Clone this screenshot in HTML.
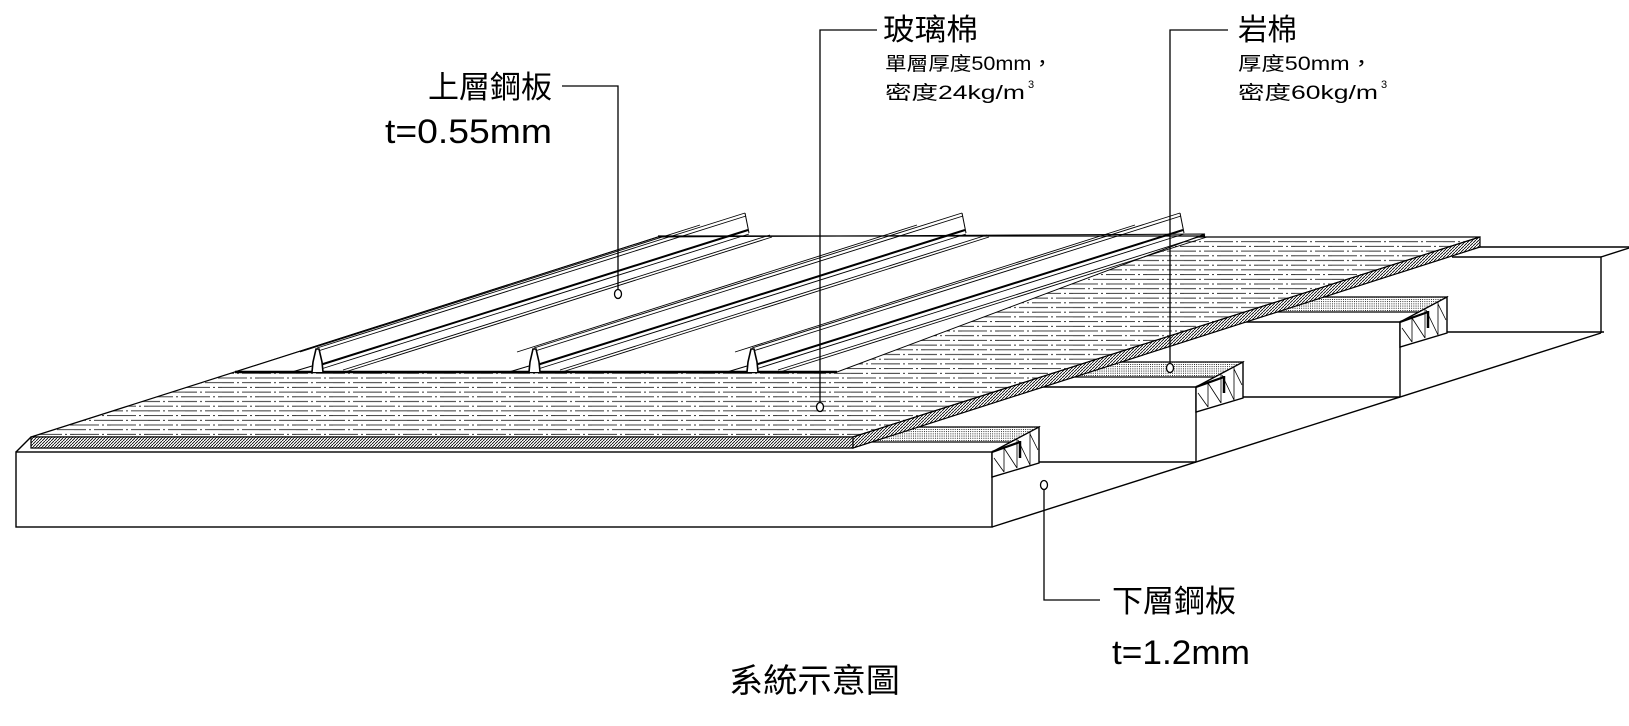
<!DOCTYPE html>
<html><head><meta charset="utf-8">
<style>
html,body{margin:0;padding:0;background:#fff;}
svg{display:block;}
text{font-family:"Liberation Sans","Noto Sans CJK TC",sans-serif;fill:#000;}
</style></head>
<body>
<svg width="1629" height="726" viewBox="0 0 1629 726" xmlns="http://www.w3.org/2000/svg">
<defs>
  <pattern id="gw" patternUnits="userSpaceOnUse" width="37" height="9.4">
    <line x1="0" y1="2" x2="25" y2="2" stroke="#000" stroke-width="0.8"/>
    <line x1="28" y1="2" x2="30" y2="2" stroke="#000" stroke-width="0.8"/>
    <line x1="33" y1="2" x2="37" y2="2" stroke="#000" stroke-width="0.8"/>
    <line x1="0" y1="6.7" x2="12" y2="6.7" stroke="#000" stroke-width="0.8"/>
    <line x1="15" y1="6.7" x2="17" y2="6.7" stroke="#000" stroke-width="0.8"/>
    <line x1="20" y1="6.7" x2="37" y2="6.7" stroke="#000" stroke-width="0.8"/>
  </pattern>
  <pattern id="diag" patternUnits="userSpaceOnUse" width="3" height="3">
    <rect width="3" height="3" fill="#fff"/>
    <path d="M0,3 L3,0" stroke="#000" stroke-width="0.8"/>
  </pattern>
  <pattern id="dots" patternUnits="userSpaceOnUse" width="2.2" height="2.2">
    <rect width="2.2" height="2.2" fill="#fff"/>
    <rect x="0" y="0" width="0.9" height="0.9" fill="#000"/>
  </pattern>
  <g id="step" fill="none" stroke="#000">
    <polygon points="878,427 1039,427 1020,442 865,442" fill="url(#dots)" stroke-width="1.2"/>
    <polygon points="992,452 1039,427 1039,463 992,477" fill="#fff" stroke-width="1.4"/>
    <path d="M1004,446 V472 M1017,439 V468 M1030,432 V465 M994,458 L1004,472 M1004,448 L1017,468 M1018,440 L1030,465 M1030,434 L1038,450" stroke-width="0.8"/>
    <path d="M992,452 L1020,442" stroke-width="2.2"/>
    <path d="M1020,441 V458" stroke-width="2.5"/>
    <path d="M1039,462 H1196" stroke-width="1.4"/>
  </g>
</defs>

<g fill="none" stroke="#000" stroke-width="1.4">
  <rect x="16" y="452" width="976" height="75" fill="#fff"/>
  <path d="M16,452 L31,437"/>
  <path d="M992,527 L1601,333"/>
  <path d="M1039,387 H1196 V462"/>
  <path d="M1243,322 H1400 V397"/>
  <path d="M1452,257 H1601 V333"/>
  <path d="M1479,247 H1629"/>
  <path d="M1601,257 L1629,248"/>
</g>
<use href="#step"/>
<use href="#step" transform="translate(204,-65)"/>
<use href="#step" transform="translate(408,-130)"/>

<g stroke="#000">
  <polygon points="31,437 853,437 1480,237 658,237" fill="#fff" stroke="none"/>
  <polygon points="31,437 853,437 1480,237 658,237" fill="url(#gw)" stroke-width="1.2"/>
  <polygon points="31,437 853,437 853,448 31,448" fill="url(#diag)" stroke-width="1.2"/>
  <polygon points="853,437 1480,237 1480,247 853,448" fill="url(#diag)" stroke-width="1.2"/>
</g>

<g stroke="#000" fill="none">
  <polygon points="235,372 837,372 1205,234 658,237" fill="#fff" stroke-width="1"/>
  <path d="M235,372 H837" stroke-width="2.4"/>
  <path d="M658,236 H1205" stroke-width="1.2"/>
</g>

<g id="rib" fill="none" stroke="#000">
  <path d="M300,352 L700,225" stroke-width="0.9"/>
  <path d="M317,348 L745,213 M318,351 L746,216" stroke-width="0.9"/>
  <path d="M320,365 L748,230" stroke-width="2"/>
  <path d="M321,369 L749,234" stroke-width="0.9"/>
  <path d="M343,370 L770,235 M345,372 L772,237" stroke-width="0.9"/>
  <path d="M745,213 L749,233" stroke-width="1"/>
  <path d="M312,372 L313,362 L316,349 L319,349 L322,362 L323,372" fill="#fff" stroke-width="1.6"/>
  <path d="M292,372 L312,366" stroke-width="1"/>
</g>
<use href="#rib" transform="translate(217,0)"/>
<use href="#rib" transform="translate(435,0)"/>

<g fill="#fff" stroke="#000" stroke-width="1.3">
  <path d="M562,86 H618 V290" fill="none"/>
  <ellipse cx="618" cy="294" rx="3.5" ry="4.5"/>
  <path d="M877,30 H820 V402" fill="none"/>
  <ellipse cx="820" cy="407" rx="3.5" ry="4.5"/>
  <path d="M1228,30 H1170 V363" fill="none"/>
  <ellipse cx="1170" cy="368" rx="3.5" ry="4.5"/>
  <path d="M1044,490 V600 H1100" fill="none"/>
  <ellipse cx="1044" cy="485" rx="3.5" ry="4.5"/>
</g>

<text x="428" y="98" font-size="31" textLength="124" lengthAdjust="spacingAndGlyphs">上層鋼板</text>
<text x="385" y="143" font-size="34" textLength="167" lengthAdjust="spacingAndGlyphs">t=0.55mm</text>

<text x="883" y="40" font-size="30" textLength="95" lengthAdjust="spacingAndGlyphs">玻璃棉</text>
<text x="885" y="70" font-size="19" textLength="168" lengthAdjust="spacingAndGlyphs">單層厚度50mm，</text>
<text x="885" y="99" font-size="19" textLength="140" lengthAdjust="spacingAndGlyphs">密度24kg/m</text>
<text x="1028" y="88" font-size="11">3</text>

<text x="1238" y="40" font-size="30" textLength="59" lengthAdjust="spacingAndGlyphs">岩棉</text>
<text x="1238" y="70" font-size="19" textLength="135" lengthAdjust="spacingAndGlyphs">厚度50mm，</text>
<text x="1238" y="99" font-size="19" textLength="140" lengthAdjust="spacingAndGlyphs">密度60kg/m</text>
<text x="1381" y="88" font-size="11">3</text>

<text x="1112" y="612" font-size="31" textLength="124" lengthAdjust="spacingAndGlyphs">下層鋼板</text>
<text x="1112" y="664" font-size="34" textLength="138" lengthAdjust="spacingAndGlyphs">t=1.2mm</text>

<text x="729" y="692" font-size="33" textLength="171" lengthAdjust="spacingAndGlyphs">系統示意圖</text>
</svg>
</body></html>
